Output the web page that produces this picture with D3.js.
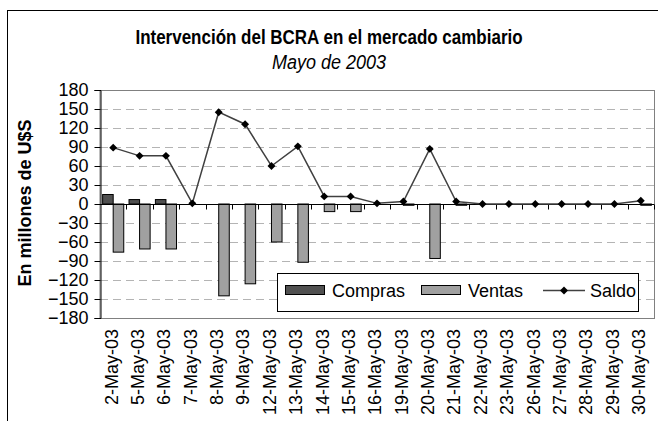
<!DOCTYPE html>
<html>
<head>
<meta charset="utf-8">
<script src="https://cdn.jsdelivr.net/npm/d3@7"></script>
<style>
body{margin:0;background:white;}
text{font-family:"Liberation Sans",Arial,sans-serif;}
</style>
</head>
<body>
<div id="chart"></div>
<script>
var dates=["2-May-03","5-May-03","6-May-03","7-May-03","8-May-03","9-May-03","12-May-03","13-May-03","14-May-03","15-May-03","16-May-03","19-May-03","20-May-03","21-May-03","22-May-03","23-May-03","26-May-03","27-May-03","28-May-03","29-May-03","30-May-03"];
var compras=[15,7,7,0,0,0,0,0,0,0,0,0,0,0,0,0,0,0,0,0,0];
var ventas=[-76,-71,-71,0,-145,-126,-60,-92,-12,-12,0,-2,-86,-2,0,0,0,0,0,0,-2];
var saldo=[89,76,76,1,145,126,60,91,12,12,1,4,87,4,0,0,0,0,0,0,5];
var yticks=[180,150,120,90,60,30,0,-30,-60,-90,-120,-150,-180];

var W=658,H=421;
var pLeft=100,pRight=654,pTop=90,pBottom=318;

var svg=d3.select("#chart").append("svg")
	.attr("width",W)
	.attr("height",H);

//chart frame
svg.append("rect")
	.attr("x",7.5).attr("y",10.5)
	.attr("width",W+50).attr("height",H+50)
	.attr("fill","white").attr("stroke","black");

//scales
var xscale=d3.scaleBand().domain(dates).range([pLeft,pRight]);
var yscale=d3.scaleLinear().domain([-180,180]).range([pBottom,pTop]);
var bw=xscale.bandwidth()*0.4;

//plot area border
svg.append("rect")
	.attr("x",pLeft).attr("y",pTop+0.5)
	.attr("width",pRight-pLeft+0.5).attr("height",pBottom-pTop)
	.attr("fill","white").attr("stroke","#808080");

//grid
svg.selectAll(".grid")
	.data(yticks.filter(function(d){return d!=0 && Math.abs(d)!=180;}))
	.enter().append("line")
	.attr("x1",pLeft).attr("x2",pRight)
	.attr("y1",function(d){return Math.round(yscale(d))+0.5;})
	.attr("y2",function(d){return Math.round(yscale(d))+0.5;})
	.attr("stroke","#b4b4b4")
	.attr("stroke-dasharray","8,5");

//bars
svg.selectAll(".compras")
	.data(dates)
	.enter().append("rect")
	.attr("x",function(d){return xscale(d)+xscale.bandwidth()/2-bw;})
	.attr("y",function(d,i){return yscale(Math.max(0,compras[i]));})
	.attr("width",bw)
	.attr("height",function(d,i){return Math.abs(yscale(compras[i])-yscale(0));})
	.attr("fill","#505050")
	.attr("stroke","black")
	.style("display",function(d,i){return compras[i]==0?"none":null;});

svg.selectAll(".ventas")
	.data(dates)
	.enter().append("rect")
	.attr("x",function(d){return xscale(d)+xscale.bandwidth()/2;})
	.attr("y",function(d,i){return yscale(Math.max(0,ventas[i]));})
	.attr("width",bw)
	.attr("height",function(d,i){return Math.abs(yscale(ventas[i])-yscale(0));})
	.attr("fill","#a0a0a0")
	.attr("stroke","black")
	.style("display",function(d,i){return ventas[i]==0?"none":null;});

//y axis
var y_axis=d3.axisLeft(yscale).tickValues(yticks).tickSize(6).tickPadding(6);
var gy=svg.append("g")
	.attr("transform","translate("+(pLeft+0.5)+",0)")
	.call(y_axis);
gy.select(".domain").attr("stroke","black");
gy.selectAll("text").attr("font-size",18).attr("fill","black")
	.style("font-family","'Liberation Sans',Arial,sans-serif");

//x axis at zero
var y0=Math.round(yscale(0))+0.5;
svg.append("line")
	.attr("x1",pLeft).attr("x2",pRight)
	.attr("y1",y0).attr("y2",y0)
	.attr("stroke","black");
svg.selectAll(".xtick")
	.data(dates)
	.enter().append("line")
	.attr("x1",function(d){return Math.round(xscale(d)+xscale.bandwidth())+0.5;})
	.attr("x2",function(d){return Math.round(xscale(d)+xscale.bandwidth())+0.5;})
	.attr("y1",y0).attr("y2",y0+5)
	.attr("stroke","black");

//x labels
svg.selectAll(".xlab")
	.data(dates)
	.enter().append("text")
	.attr("transform",function(d){return "translate("+(xscale(d)+xscale.bandwidth()/2-2)+",329) rotate(-90)";})
	.attr("dy","0.35em")
	.attr("text-anchor","end")
	.attr("font-size",18)
	.text(function(d){return d;});

//saldo line
var line=d3.line()
	.x(function(d,i){return xscale(dates[i])+xscale.bandwidth()/2;})
	.y(function(d){return yscale(d);});
svg.append("path")
	.datum(saldo)
	.attr("d",line)
	.attr("fill","none")
	.attr("stroke","#404040")
	.attr("stroke-width",1.5);
svg.selectAll(".pt")
	.data(saldo)
	.enter().append("path")
	.attr("d",d3.symbol().type(d3.symbolDiamond2).size(40))
	.attr("transform",function(d,i){return "translate("+(xscale(dates[i])+xscale.bandwidth()/2)+","+yscale(d)+")";})
	.attr("fill","black");

//titles (slightly taller glyphs, like the original)
svg.append("text")
	.attr("transform","translate(329,44) scale(1,1.15)")
	.attr("text-anchor","middle")
	.attr("font-size",17)
	.attr("font-weight","bold")
	.text("Intervención del BCRA en el mercado cambiario");
svg.append("text")
	.attr("transform","translate(329,69) scale(1,1.1)")
	.attr("text-anchor","middle")
	.attr("font-size",18)
	.attr("font-style","italic")
	.text("Mayo de 2003");
svg.append("text")
	.attr("transform","translate(31,203) rotate(-90)")
	.attr("text-anchor","middle")
	.attr("font-size",18)
	.attr("font-weight","bold")
	.text("En millones de U$S");

//legend
var lg=svg.append("g");
lg.append("rect")
	.attr("x",277.5).attr("y",273.5)
	.attr("width",361).attr("height",38)
	.attr("fill","white").attr("stroke","black");
var items=[{name:"Compras",fill:"#505050",x:285},{name:"Ventas",fill:"#a0a0a0",x:421}];
items.forEach(function(it){
	lg.append("rect")
		.attr("x",it.x+0.5).attr("y",285.5)
		.attr("width",39).attr("height",9)
		.attr("fill",it.fill).attr("stroke","black");
	lg.append("text")
		.attr("x",it.x+47).attr("y",297)
		.attr("font-size",18)
		.text(it.name);
});
lg.append("line")
	.attr("x1",543).attr("x2",585)
	.attr("y1",290.5).attr("y2",290.5)
	.attr("stroke","#404040").attr("stroke-width",1.5);
lg.append("path")
	.attr("d",d3.symbol().type(d3.symbolDiamond2).size(40))
	.attr("transform","translate(564,290.5)")
	.attr("fill","black");
lg.append("text")
	.attr("x",590).attr("y",297)
	.attr("font-size",18)
	.text("Saldo");
</script>
</body>
</html>
